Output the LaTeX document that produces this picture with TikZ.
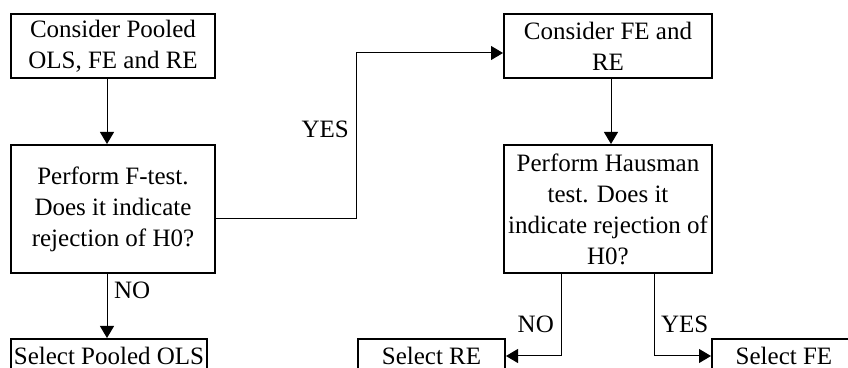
\documentclass[tikz,border=0pt]{standalone}
\usepackage{fontspec}
\setmainfont{Liberation Serif}
\usetikzlibrary{arrows.meta}

\begin{document}
\begin{tikzpicture}[x = .5pt, y = -.5pt,
    font = \fontsize{12.5}{15.5}\selectfont,
    box/.style = {draw, line width = 1pt, align = center, inner sep = 1pt},
    arr/.style = {-{Triangle[length = 6pt, width = 7pt]}, line width = .5pt}]
    \path [use as bounding box, clip] (0, 0) rectangle (848, 368);
    \node (pool)  at (113,   46) [box, minimum width = 102pt, minimum height = 32pt] {Consider Pooled\\OLS, FE and RE};
    \node (ftest) at (113,  209) [box, minimum width = 102pt, minimum height = 64pt] {Perform F-test.\\Does it indicate\\rejection of H0?};
    \node (ols)   at (109,  356) [box, minimum width = 98pt,  minimum height = 17pt] {Select Pooled OLS};
    \node (ferec) at (608,   46) [box, minimum width = 104pt, minimum height = 32pt] {Consider FE and\\RE};
    \node (haus)  at (608,  209) [box, minimum width = 104pt, minimum height = 64pt] {Perform Hausman\\test. Does it\\indicate rejection of\\H0?};
    \node (re)    at (431.5, 356) [box, minimum width = 73.5pt, minimum height = 17pt] {Select RE};
    \node (fe)    at (784,  356) [box, minimum width = 72pt,  minimum height = 17pt] {Select FE};
    \draw [arr] ([xshift = -3pt]pool.south) -- ([xshift = -3pt]ftest.north);
    \draw [arr] ([xshift = -3pt]ftest.south) -- node [pos = .26, right] {NO} ([xshift = -1pt]ols.north);
    \draw [arr] ([yshift = -5pt]ftest.east) -- ++(140, 0) |- node [pos = .27, left] {YES} ([yshift = -3.5pt]ferec.west);
    \draw [arr] ([xshift = 1.5pt]ferec.south) -- ([xshift = 1.5pt]haus.north);
    \draw [arr] ([xshift = -23.5pt]haus.south) |- node [pos = .31, left] {NO} (re.east);
    \draw [arr] ([xshift = 23pt]haus.south) |- node [pos = .31, right] {YES} (fe.west);
  \end{tikzpicture}
\end{document}
